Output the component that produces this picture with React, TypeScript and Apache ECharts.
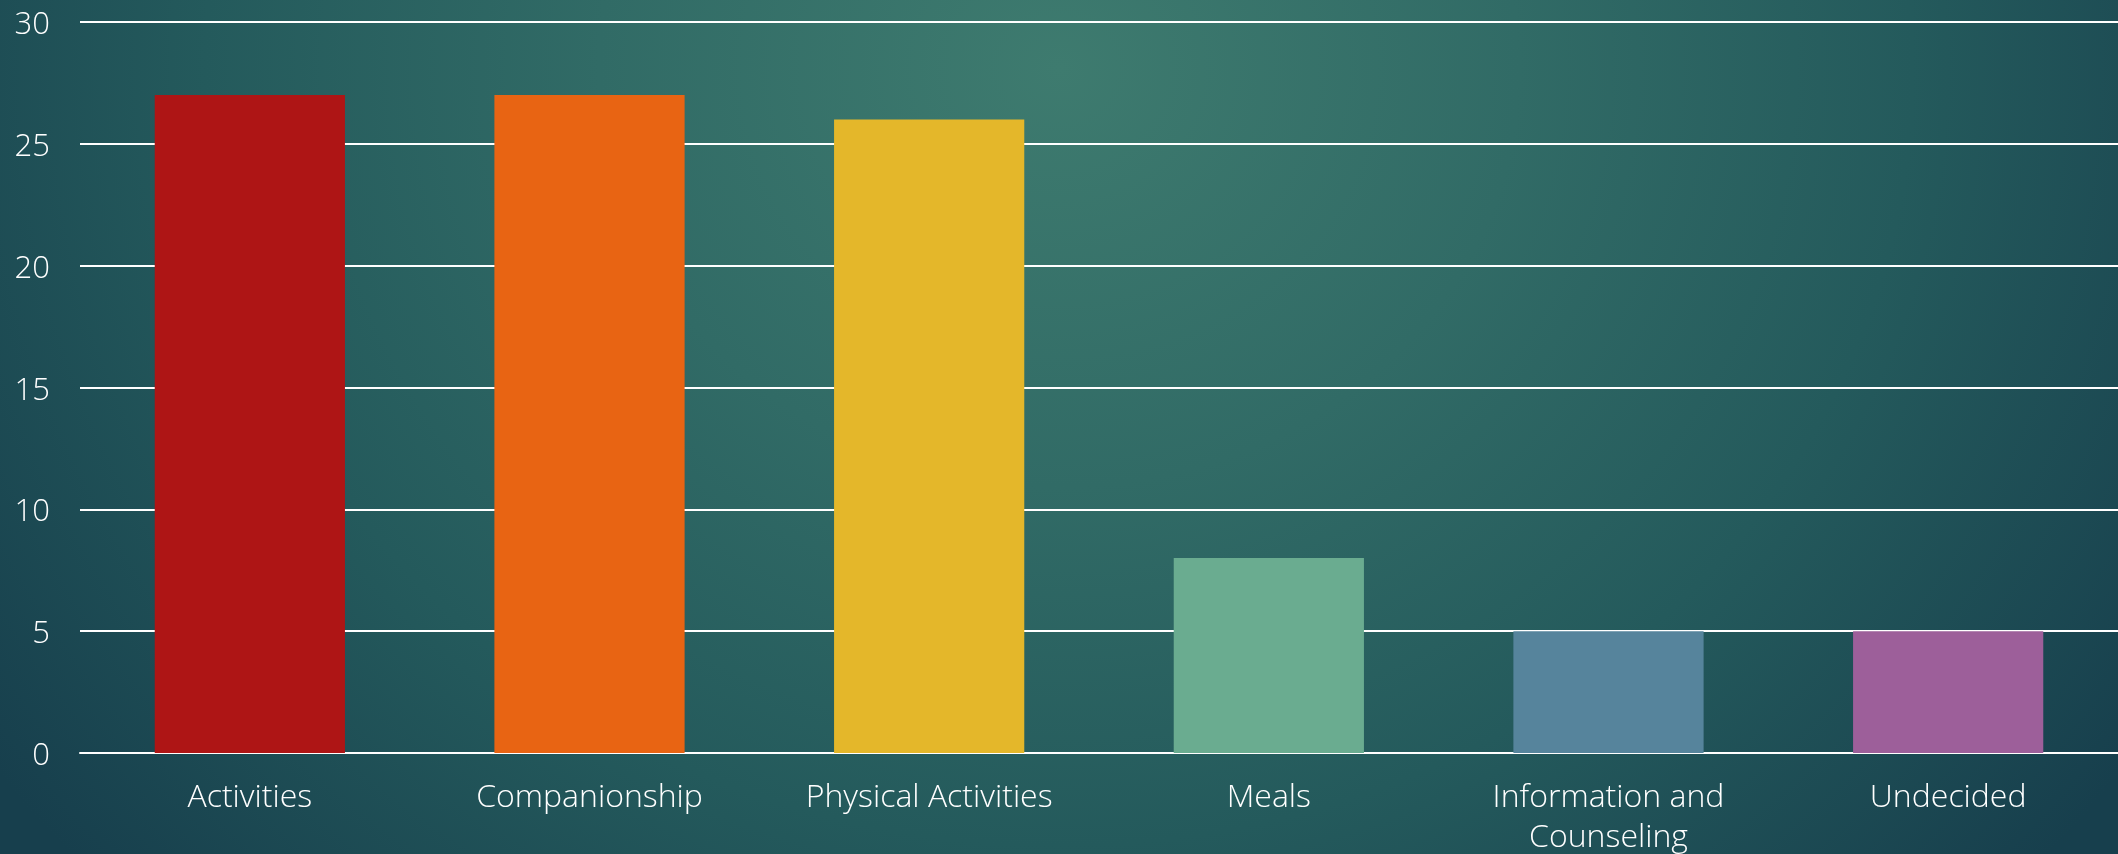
import React, { useEffect, useRef } from "react";
import * as echarts from "echarts";

const categories = [
  "Activities",
  "Companionship",
  "Physical Activities",
  "Meals",
  "Information and\nCounseling",
  "Undecided",
];
const values = [27, 27, 26, 8, 5, 5];
const barColors = ["#ae1515", "#e86413", "#e4b72a", "#6aac90", "#56849c", "#9d5f9a"];
const yTicks = { min: 0, max: 30, interval: 5 };

export default function App() {
  const ref = useRef<HTMLDivElement>(null);
  useEffect(() => {
    if (!ref.current) return;
    const chart = echarts.init(ref.current, undefined, { renderer: "svg" });
    const font = "'Open Sans', Lato, sans-serif";
    chart.setOption({
      animation: false,
      backgroundColor: "transparent",
      grid: { left: 80, right: 0, top: 22, bottom: 99, containLabel: false },
      xAxis: {
        type: "category",
        data: categories,
        axisTick: { show: false },
        axisLine: { show: true, lineStyle: { color: "#ffffff", width: 2 } },
        axisLabel: {
          color: "#ffffff",
          fontSize: 32,
          fontWeight: 300,
          fontFamily: font,
          margin: 21,
          lineHeight: 40,
          interval: 0,
        },
      },
      yAxis: {
        type: "value",
        min: yTicks.min,
        max: yTicks.max,
        interval: yTicks.interval,
        axisLine: { show: false },
        axisTick: { show: false },
        axisLabel: { color: "#ffffff", fontSize: 31, fontWeight: 300, fontFamily: font, margin: 30 },
        splitLine: { show: true, lineStyle: { color: "#ffffff", width: 2 } },
      },
      series: [
        {
          type: "bar",
          data: values.map((v, i) => ({ value: v, itemStyle: { color: barColors[i] } })),
          barCategoryGap: "44%",
        },
      ],
    });
    return () => chart.dispose();
  }, []);
  return (
    <div
      style={{
        position: "fixed",
        left: 0,
        top: 0,
        width: 2118,
        height: 854,
        background:
          "radial-gradient(ellipse 62% 140% at 50% 8%, #3e7b6f 0%, #316b66 35%, #245a5c 65%, #173f4d 100%)",
      }}
    >
      <div ref={ref} style={{ width: 2118, height: 854 }} />
    </div>
  );
}
